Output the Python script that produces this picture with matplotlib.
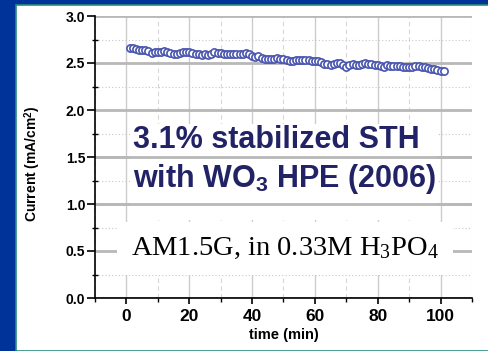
import numpy as np
import matplotlib
matplotlib.use("Agg")
from matplotlib import pyplot as plt
from matplotlib.patches import Rectangle
from matplotlib.ticker import MultipleLocator

# photocurrent stability data, one reading per minute
time_min = np.arange(1, 102)
current = [
    2.663, 2.663, 2.652, 2.635, 2.635, 2.638, 2.628, 2.610, 2.617, 2.617,
    2.621, 2.624, 2.621, 2.610, 2.596, 2.599, 2.610, 2.617, 2.621, 2.613,
    2.603, 2.599, 2.592, 2.582, 2.596, 2.585, 2.592, 2.621, 2.610, 2.603,
    2.599, 2.599, 2.596, 2.592, 2.592, 2.592, 2.596, 2.606, 2.592, 2.578,
    2.560, 2.574, 2.557, 2.543, 2.539, 2.546, 2.546, 2.550, 2.546, 2.539,
    2.532, 2.525, 2.525, 2.528, 2.532, 2.532, 2.528, 2.532, 2.525, 2.521,
    2.518, 2.507, 2.493, 2.486, 2.479, 2.493, 2.504, 2.496, 2.479, 2.461,
    2.475, 2.486, 2.479, 2.482, 2.489, 2.496, 2.493, 2.486, 2.482, 2.479,
    2.472, 2.461, 2.479, 2.472, 2.468, 2.468, 2.465, 2.457, 2.461, 2.461,
    2.461, 2.465, 2.468, 2.457, 2.454, 2.447, 2.440, 2.433, 2.426, 2.411,
    2.411,
]
x_ticks = [0, 20, 40, 60, 80, 100]
y_ticks = [0.0, 0.5, 1.0, 1.5, 2.0, 2.5, 3.0]

plt.rcParams['font.family'] = ['Liberation Sans', 'DejaVu Sans']
plt.rcParams['mathtext.fontset'] = 'custom'
plt.rcParams['mathtext.rm'] = 'Liberation Serif'
plt.rcParams['mathtext.it'] = 'Liberation Serif:italic'
plt.rcParams['mathtext.bf'] = 'Liberation Sans:bold'

fig = plt.figure(figsize=(4.89, 3.51), dpi=100, facecolor='#003399')
# white slide panel
fig.patches.append(Rectangle((16 / 489, 0), 1, 1 - 5 / 351, transform=fig.transFigure,
                             facecolor='white', edgecolor='#2a8c7c', lw=1.2, zorder=-1))

ax = fig.add_axes([95 / 489, 1 - 298 / 351, 377 / 489, 282 / 351])
ax.set_zorder(1)
ax.set_facecolor('none')

ax.plot(time_min, current, 'o', ms=5.2, mfc='white', mec='#4a55b0', mew=1.2,
        zorder=5, clip_on=False)

ax.set_xlim(-10, 110)
ax.set_ylim(0, 3.0)
ax.set_xticks(x_ticks)
ax.set_yticks(y_ticks)
ax.set_yticklabels([f'{v:.1f}' for v in y_ticks])
ax.xaxis.set_minor_locator(MultipleLocator(10))
ax.yaxis.set_minor_locator(MultipleLocator(0.25))

for s in ['top', 'right']:
    ax.spines[s].set_visible(False)
for s in ['left', 'bottom']:
    ax.spines[s].set_linewidth(1.2)

ax.tick_params(axis='y', which='major', direction='out', length=6, width=1.2,
               labelsize=10, pad=1)
ax.tick_params(axis='y', which='minor', direction='inout', length=5, width=1.0)
ax.tick_params(axis='x', which='major', direction='out', length=4, width=1.2,
               labelsize=12.5, pad=4)
ax.tick_params(axis='x', which='minor', direction='out', length=3, width=1.0)
for lab in ax.get_xticklabels() + ax.get_yticklabels():
    lab.set_fontweight('bold')

ax.grid(axis='x', which='major', color='#cccccc', lw=1.0, ls='-', zorder=0)
ax.grid(axis='x', which='minor', color='#d8d8d8', lw=0.8, ls=(0, (4, 3)), zorder=0)
ax.grid(axis='y', which='major', color='#b8b8b8', lw=2.0, ls='-', zorder=0)
ax.grid(axis='y', which='minor', color='#c8c8c8', lw=0.8, ls=(0, (1, 2)), zorder=0)
ax.set_axisbelow(True)

ax.set_xlabel('time (min)', fontsize=10.5, fontweight='bold', labelpad=3)
ax.set_ylabel(r'Current (mA/cm$^\mathbf{2}$)', fontsize=10, fontweight='bold')
ax.yaxis.set_label_coords(-0.138, 0.475)

# white box behind the title, major lines stay visible through it
ax.add_patch(Rectangle((0.093, 0.277), 0.814, 0.34, transform=ax.transAxes,
                       facecolor='white', edgecolor='none', zorder=1))
for v in [1.0, 1.5]:
    ax.axhline(v, color='#b8b8b8', lw=2.0, zorder=2)

ax.text(2, 1.596, '3.1% stabilized STH', fontsize=22, fontweight='bold',
        color='#222266', ha='left', va='baseline', zorder=3)
ax.text(2, 1.18, 'with WO$_\\mathbf{3}$ HPE (2006)', fontsize=22, fontweight='bold',
        color='#222266', ha='left', va='baseline', zorder=3)

ax.text(50.5, 0.457, r'AM1.5G, in 0.33M H$_3$PO$_4$', family='Liberation Serif',
        fontsize=20.5, color='black', ha='center', va='baseline', zorder=3,
        bbox=dict(facecolor='white', edgecolor='none', pad=10))

plt.savefig('out.png', dpi=100, facecolor=fig.get_facecolor())
